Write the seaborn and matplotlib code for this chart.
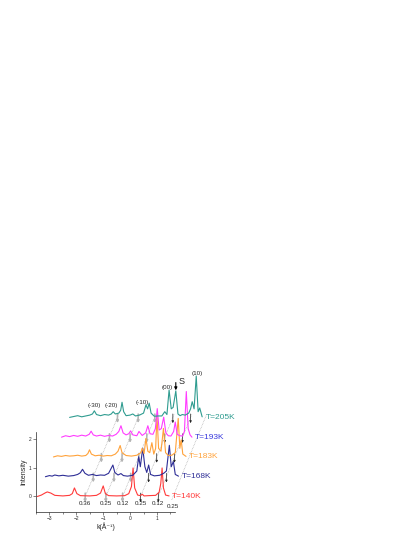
import numpy as np
import seaborn as sns
import matplotlib.pyplot as plt

sns.set_style("ticks")
plt.rcParams["font.family"] = ["Liberation Sans", "DejaVu Sans"]
plt.rcParams["font.size"] = 5

# waterfall traces, each in its own frame (k in 1/A, intensity above own baseline)
temps = ["T=140K", "T=168K", "T=183K", "T=193K", "T=205K"]
colors = ["#ff3a3a", "#2e2e96", "#ffa23a", "#ff3cff", "#2f9c90"]
label_colors = ["#ff3a3a", "#2e2e96", "#ffa23a", "#3a3add", "#2f9c90"]

k_140 = [-3.45, -3.3, -3.15, -3.08, -2.95, -2.8, -2.5, -2.25, -2.15, -2.07, -1.98, -1.85,
         -1.5, -1.25, -1.1, -1.0, -0.92, -0.8, -0.5, -0.2, -0.05, 0.05, 0.11, 0.17, 0.28,
         0.38, 0.45, 0.52, 0.7, 0.95, 1.08, 1.14, 1.19, 1.24, 1.32, 1.45]
i_140 = [0.0, 0.05, 0.13, 0.16, 0.12, 0.04, 0.02, 0.04, 0.1, 0.3, 0.1, 0.03,
         0.02, 0.04, 0.12, 0.37, 0.1, 0.03, 0.02, 0.03, 0.1, 0.35, 1.0, 0.3, 0.05,
         0.03, 0.08, 0.02, 0.03, 0.04, 0.15, 0.45, 1.0, 0.3, 0.05, 0.02]

k_168 = [-3.45, -3.3, -3.2, -3.1, -2.95, -2.8, -2.6, -2.4, -2.25, -2.15, -2.07, -1.98,
         -1.85, -1.7, -1.55, -1.4, -1.25, -1.1, -1.0, -0.94, -0.87, -0.75, -0.64, -0.55,
         -0.4, -0.2, -0.05, 0.02, 0.08, 0.17, 0.25, 0.32, 0.39, 0.46, 0.6, 0.8, 0.95,
         1.05, 1.16, 1.23, 1.31, 1.38, 1.5]
i_168 = [0.0, 0.04, 0.02, 0.06, 0.03, 0.05, 0.02, 0.04, 0.08, 0.14, 0.26, 0.12,
         0.05, 0.08, 0.04, 0.06, 0.05, 0.12, 0.3, 0.41, 0.15, 0.06, 0.11, 0.04,
         0.02, 0.05, 0.2, 0.7, 0.35, 1.0, 0.35, 0.15, 0.41, 0.08, 0.03, 0.05, 0.12,
         0.2, 1.1, 0.35, 0.53, 0.08, 0.02]

k_183 = [-3.45, -3.3, -3.15, -3.0, -2.85, -2.7, -2.55, -2.4, -2.25, -2.17, -2.11, -2.04,
         -1.9, -1.75, -1.6, -1.45, -1.3, -1.15, -1.05, -0.97, -0.9, -0.75, -0.55, -0.35,
         -0.2, -0.15, -0.08, -0.01, 0.06, 0.13, 0.21, 0.28, 0.35, 0.40, 0.46, 0.55, 0.64,
         0.72, 0.82, 0.95, 1.08, 1.19, 1.25, 1.3, 1.36, 1.48]
i_183 = [0.0, 0.04, 0.02, 0.05, 0.03, 0.04, 0.06, 0.03, 0.05, 0.12, 0.25, 0.1,
         0.04, 0.06, 0.03, 0.05, 0.04, 0.1, 0.2, 0.4, 0.15, 0.05, 0.03, 0.06,
         0.15, 0.3, 0.12, 0.65, 0.2, 0.15, 0.5, 0.1, 0.3, 1.45, 0.3, 0.2, 1.0,
         0.15, 0.05, 0.06, 0.15, 1.35, 0.3, 0.6, 0.1, 0.02]

k_193 = [-3.45, -3.3, -3.15, -3.0, -2.85, -2.7, -2.55, -2.42, -2.35, -2.27, -2.15, -2.0,
         -1.85, -1.7, -1.55, -1.42, -1.32, -1.24, -1.16, -1.05, -0.95, -0.88, -0.8, -0.65,
         -0.57, -0.45, -0.32, -0.24, -0.16, -0.05, 0.04, 0.11, 0.18, 0.26, 0.35, 0.43,
         0.52, 0.62, 0.72, 0.78, 0.85, 0.95, 1.05, 1.12, 1.19, 1.26, 1.33, 1.4]
i_193 = [0.0, 0.05, 0.02, 0.06, 0.03, 0.07, 0.04, 0.1, 0.21, 0.08, 0.04, 0.07,
         0.03, 0.06, 0.04, 0.1, 0.2, 0.4, 0.15, 0.08, 0.12, 0.22, 0.08, 0.05,
         0.2, 0.06, 0.15, 0.4, 0.12, 0.1, 0.3, 1.0, 0.25, 0.3, 0.7, 0.15,
         0.05, 0.04, 0.2, 0.53, 0.1, 0.05, 0.04, 0.2, 1.6, 0.3, 0.08, 0.0]

k_205 = [-3.45, -3.3, -3.15, -3.0, -2.85, -2.7, -2.6, -2.53, -2.45, -2.3, -2.15, -2.0,
         -1.9, -1.83, -1.75, -1.62, -1.55, -1.5, -1.44, -1.35, -1.2, -1.1, -1.0, -0.85,
         -0.7, -0.61, -0.55, -0.49, -0.42, -0.3, -0.15, -0.02, 0.09, 0.17, 0.25, 0.33,
         0.4, 0.5, 0.58, 0.66, 0.74, 0.85, 0.98, 1.05, 1.11, 1.18, 1.26, 1.33, 1.39, 1.48]
i_205 = [0.0, 0.03, 0.06, 0.02, 0.05, 0.08, 0.12, 0.23, 0.1, 0.06, 0.1, 0.08,
         0.12, 0.2, 0.12, 0.15, 0.25, 0.53, 0.2, 0.06, 0.08, 0.12, 0.05, 0.08,
         0.15, 0.44, 0.3, 0.5, 0.15, 0.04, 0.05, 0.05, 0.2, 0.1, 0.96, 0.3,
         0.35, 0.93, 0.12, 0.06, 0.1, 0.08, 0.15, 0.3, 0.55, 0.3, 1.45, 0.2, 0.33, 0.02]

traces_k = [k_140, k_168, k_183, k_193, k_205]
traces_i = [i_140, i_168, i_183, i_193, i_205]

# guide lines (k at the 140K baseline) and their labels
guide_k = [-1.67, -0.9, -0.28, 0.39, 1.05, 1.6]
guide_labels = ["0.36", "0.25", "0.12", "0.25", "0.12", "0.25"]
guide_colors = ["#b4b4b4", "#b4b4b4", "#b4b4b4", "#222222", "#222222", "#b4b4b4"]

# reflection labels on the top trace (k, height in top trace frame)
refl_labels = ["(-30)", "(-20)", "(-10)", "(00)", "(10)"]
refl_k = [-2.52, -1.89, -0.74, 0.2, 1.3]
refl_h = [0.4, 0.4, 0.51, 1.04, 1.55]

dx, dy = 0.3, 0.693

fig = plt.figure(figsize=(4.15, 5.37), dpi=100)
ax = fig.add_axes([36 / 415, 25.5 / 537, 139 / 415, 79.5 / 537])

# dotted guides
for gk in guide_k:
    t = np.array([-0.17, 4.15])
    ax.plot(gk + t * dx, t * dy, ls=(0, (1, 1.2)), color="#a8a8a8", lw=0.5, clip_on=False, zorder=1)

for n, (kk, ii) in enumerate(zip(traces_k, traces_i)):
    x = np.array(kk) + n * dx
    y = np.array(ii) + n * dy
    sns.lineplot(x=x, y=y, ax=ax, color=colors[n], lw=0.8, estimator=None, sort=False,
                 clip_on=False, zorder=3)
    ax.text(x[-1] + 0.12, n * dy, temps[n], color=label_colors[n], fontsize=6,
            ha="left", va="center")
    # small arrows where guides cross the trace
    for gk, gc in zip(guide_k, guide_colors):
        ax_x = gk + n * dx
        if ax_x > x[-1] or ax_x < x[0]:
            continue
        wide = gc != "#222222"
        ax.annotate("", xy=(ax_x, n * dy - 0.2), xytext=(ax_x, n * dy + 0.12),
                    arrowprops=dict(arrowstyle="-|>", color=gc, lw=1.1 if wide else 0.5,
                                    mutation_scale=3, shrinkA=0, shrinkB=0),
                    annotation_clip=False, zorder=2)

for lab, gk in zip(guide_labels, guide_k):
    yy = -0.36 if gk > 1.5 else -0.25
    ax.text(gk, yy, lab, fontsize=4.5, ha="center", va="center")

for lab, rk, rh in zip(refl_labels, refl_k, refl_h):
    ax.text(rk + 4 * dx, rh + 4 * dy, lab, fontsize=4.5, ha="center", va="center")

# "S" marker on the top trace
ax.annotate("", xy=(0.5 + 4 * dx, 0.95 + 4 * dy), xytext=(0.5 + 4 * dx, 1.22 + 4 * dy),
            arrowprops=dict(arrowstyle="-|>", color="black", lw=0.8, mutation_scale=4,
                            shrinkA=0, shrinkB=0), annotation_clip=False)
ax.text(0.6 + 4 * dx, 1.26 + 4 * dy, "S", fontsize=6.5, ha="left", va="center")

ax.set_xlim(-3.44, 1.67)
ax.set_ylim(-0.526, 2.26)
ax.set_xticks([-3, -2, -1, 0, 1])
ax.set_xticks(np.arange(-3.5, 1.6, 0.5), minor=True)
ax.set_yticks([0, 1, 2])
ax.tick_params(axis="both", labelsize=3.5, length=2, width=0.4, pad=1.5)
ax.tick_params(which="minor", length=1.2, width=0.4)
for s in ["left", "bottom"]:
    ax.spines[s].set_linewidth(0.5)
sns.despine(ax=ax)
ax.set_xlabel("k(Å⁻¹)", fontsize=5, labelpad=1)
ax.set_ylabel("Intensity", fontsize=5, labelpad=1)

fig.savefig("out.png", dpi=100)
